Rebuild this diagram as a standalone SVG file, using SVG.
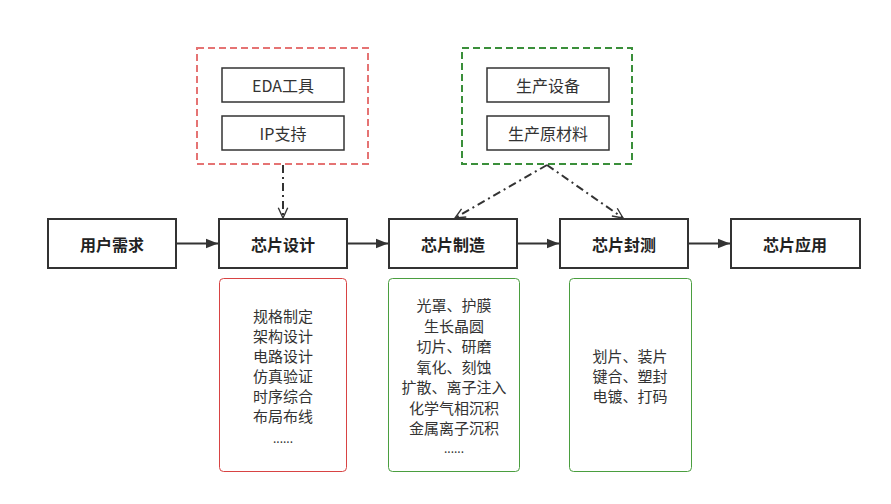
<svg xmlns="http://www.w3.org/2000/svg" width="891" height="504" viewBox="0 0 891 504">
<defs>
<style>
.t{font-family:"Noto Sans CJK SC","Microsoft YaHei",sans-serif;font-size:16px;fill:#333;text-anchor:middle;dominant-baseline:central}
.l{font-size:15px}
.b{font-weight:bold;fill:#222}
.d{font-size:12px}
.main{fill:#fff;stroke:#333;stroke-width:2}
.inner{fill:#fff;stroke:#333;stroke-width:1.5}
.flow{stroke:#333;stroke-width:2;fill:none}
.dd{stroke:#333;stroke-width:2;fill:none;stroke-dasharray:8 4 2 4}
</style>
<marker id="fa" viewBox="0 0 10 10" refX="10" refY="5" markerWidth="6" markerHeight="6" orient="auto" markerUnits="strokeWidth"><path d="M0,1 L10,5 L0,9 Z" fill="#333"/></marker>
<marker id="oa" viewBox="0 0 14 14" refX="13" refY="7" markerWidth="12" markerHeight="12" orient="auto" markerUnits="userSpaceOnUse"><path d="M1,1.5 L13,7 L1,12.5" fill="none" stroke="#333" stroke-width="1.6"/></marker>
</defs>
<rect width="891" height="504" fill="#fff"/>
<g id="design-tools">
<rect x="197" y="48" width="171" height="116" fill="none" stroke="#E57373" stroke-width="2" stroke-dasharray="7 4"/>
<rect class="inner" x="222" y="68" width="122" height="34"/>
<text class="t" x="283" y="85">EDA工具</text>
<rect class="inner" x="222" y="116" width="122" height="34"/>
<text class="t" x="283" y="133">IP支持</text>
</g>
<g id="production-resources">
<rect x="462" y="48" width="170" height="116" fill="none" stroke="#3A8F3A" stroke-width="2" stroke-dasharray="7 4"/>
<rect class="inner" x="487" y="68" width="122" height="34"/>
<text class="t" x="548" y="85">生产设备</text>
<rect class="inner" x="487" y="116" width="122" height="34"/>
<text class="t" x="548" y="133">生产原材料</text>
</g>
<g id="user-needs"><rect class="main" x="48" y="219" width="128" height="49"/><text class="t b" x="112" y="243.5">用户需求</text></g>
<g id="chip-design"><rect class="main" x="219" y="219" width="128" height="49"/><text class="t b" x="283" y="243.5">芯片设计</text></g>
<g id="chip-manufacturing"><rect class="main" x="389" y="219" width="128" height="49"/><text class="t b" x="453" y="243.5">芯片制造</text></g>
<g id="chip-packaging"><rect class="main" x="560" y="219" width="128" height="49"/><text class="t b" x="624" y="243.5">芯片封测</text></g>
<g id="chip-application"><rect class="main" x="731" y="219" width="129" height="49"/><text class="t b" x="795" y="243.5">芯片应用</text></g>
<g id="design-details">
<rect x="219.5" y="278.5" width="127" height="193" rx="4" fill="#fff" stroke="#D84343" stroke-width="1"/>
<text class="t l" x="283" y="315">规格制定</text>
<text class="t l" x="283" y="335">架构设计</text>
<text class="t l" x="283" y="355">电路设计</text>
<text class="t l" x="283" y="375">仿真验证</text>
<text class="t l" x="283" y="395">时序综合</text>
<text class="t l" x="283" y="415">布局布线</text>
<text class="t d" x="283" y="437">......</text>
</g>
<g id="manufacturing-details">
<rect x="388.5" y="278.5" width="131" height="193" rx="4" fill="#fff" stroke="#4A9E3F" stroke-width="1"/>
<text class="t l" x="454" y="304.5">光罩、护膜</text>
<text class="t l" x="454" y="325">生长晶圆</text>
<text class="t l" x="454" y="345.5">切片、研磨</text>
<text class="t l" x="454" y="366">氧化、刻蚀</text>
<text class="t l" x="454" y="386.5">扩散、离子注入</text>
<text class="t l" x="454" y="407">化学气相沉积</text>
<text class="t l" x="454" y="427.5">金属离子沉积</text>
<text class="t d" x="454" y="447">......</text>
</g>
<g id="packaging-details">
<rect x="569.5" y="278.5" width="122" height="193" rx="4" fill="#fff" stroke="#4A9E3F" stroke-width="1"/>
<text class="t l" x="630" y="355">划片、装片</text>
<text class="t l" x="630" y="375">键合、塑封</text>
<text class="t l" x="630" y="395">电镀、打码</text>
</g>
<g id="connectors">
<line class="flow" x1="176" y1="243.5" x2="218" y2="243.5" marker-end="url(#fa)"/>
<line class="flow" x1="347" y1="243.5" x2="388" y2="243.5" marker-end="url(#fa)"/>
<line class="flow" x1="517" y1="243.5" x2="559" y2="243.5" marker-end="url(#fa)"/>
<line class="flow" x1="688" y1="243.5" x2="730" y2="243.5" marker-end="url(#fa)"/>
<line class="dd" x1="283" y1="165" x2="283" y2="218" marker-end="url(#oa)"/>
<line class="dd" x1="547" y1="165" x2="455" y2="218" marker-end="url(#oa)"/>
<line class="dd" x1="547" y1="165" x2="623" y2="218" marker-end="url(#oa)"/>
</g>
</svg>
